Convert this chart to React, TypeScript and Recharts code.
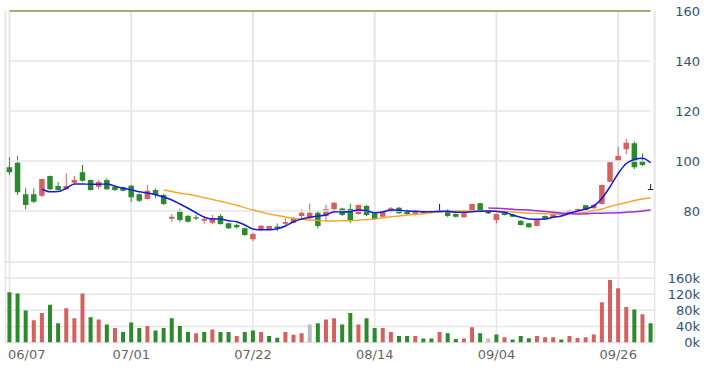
import React from 'react';
import { ComposedChart, Bar, Line, XAxis, YAxis, CartesianGrid, ReferenceLine, Cell } from 'recharts';

const dates = [
  '06/07','06/11','06/12','06/13','06/14','06/17','06/18','06/19','06/20','06/21',
  '06/24','06/25','06/26','06/27','06/28','07/01','07/02','07/03','07/04','07/05',
  '07/08','07/09','07/10','07/11','07/12','07/15','07/16','07/17','07/18','07/19',
  '07/22','07/23','07/26','07/29','07/30','07/31','08/01','08/02','08/05','08/06',
  '08/07','08/08','08/09','08/12','08/13','08/14','08/15','08/16','08/19','08/20',
  '08/21','08/22','08/23','08/26','08/27','08/28','08/29','08/30','09/02','09/03',
  '09/04','09/05','09/06','09/09','09/10','09/11','09/12','09/13','09/16','09/18',
  '09/19','09/20','09/23','09/24','09/25','09/26','09/27','09/30','10/01','10/04',
];
const tickDates = ['06/07', '07/01', '07/22', '08/14', '09/04', '09/26'];

const opens = [
  97.5, 99.3, 86.7, 86.7, 86.1, 94, 90, 88.7, 91.3, 95.5,
  92.4, 89.7, 92.4, 89.7, 89.5, 90.1, 86.7, 84.8, 88.4, 86.4,
  76.9, 80.1, 78, 77.5, 76.1, 75.3, 78, 75.1, 74.4, 73.1,
  68.7, 72.5, 72.5, 73.8, 74.9, 75.3, 78, 77.1, 79.3, 78,
  80.7, 81, 80.8, 78.8, 82, 79.1, 77.7, 79.7, 81.3, 80.4,
  78.4, 80, 80, 79.8, 80.4, 78.8, 77.5, 79.7, 83.1, 79.5,
  76.4, 79.3, 78.6, 76.1, 75.1, 74, 78, 77.5, 78.9, 78.8,
  80, 82.3, 81.1, 82.8, 91.7, 100.1, 104.7, 107.1, 100.1, 88.8,
];
const highs = [
  101.5, 102, 89.1, 89.1, 92.8, 94.2, 91.5, 95, 94, 98.4,
  92.6, 92.4, 93.1, 90.1, 89.8, 90.4, 87, 90.4, 89.1, 87,
  78.8, 81, 78.4, 78.4, 77.9, 78.4, 78.7, 75.3, 75, 73.4,
  71.2, 74.4, 74.2, 75, 77, 77.5, 80.7, 83, 80, 82.5,
  83.5, 81.3, 82.9, 82.6, 82.4, 79.5, 80.3, 81.6, 81.6, 80.6,
  80.3, 80.3, 80.2, 82.8, 80.8, 79, 79.3, 83, 83.3, 80.2,
  79, 79.6, 78.9, 76.3, 75.3, 76.6, 78.2, 78.9, 79.1, 80.6,
  81, 82.5, 82.7, 90.6, 99.7, 105.7, 108.8, 107.8, 103, 90.8,
];
const lows = [
  94.4, 86.4, 80.7, 83.1, 85.5, 88.4, 88.2, 88.5, 90.8, 91.7,
  88.1, 88.7, 88.5, 88, 87.8, 83.7, 83.6, 84.6, 85.1, 82.4,
  75.7, 75.5, 75.4, 76.4, 74.9, 74.7, 74.5, 72.8, 73, 70,
  68, 72, 72.2, 72, 74, 75, 77, 76.8, 73, 76,
  80.3, 78, 75.1, 78.5, 78, 76.5, 77.4, 79.4, 78.9, 78.6,
  78.2, 79, 79.3, 79.7, 77.5, 77.4, 77.3, 79.5, 79.5, 79,
  75, 78.2, 77.5, 74.2, 73.3, 73.8, 76.7, 77.3, 78.3, 78.6,
  79.8, 80.2, 80.9, 82.6, 91.5, 99.9, 102.8, 96.8, 98, 88.6,
];
const closes = [
  95.5, 87.5, 82.4, 83.7, 92.8, 88.7, 88.4, 90, 92.4, 92.1,
  88.4, 91.6, 88.7, 88.4, 88.1, 85.5, 84.1, 88.1, 86.4, 82.8,
  77.7, 76.4, 75.7, 77, 76.8, 77.1, 74.8, 73.1, 73.5, 70.4,
  70.8, 74.1, 74, 73.2, 75.6, 77.1, 79.3, 79.3, 74, 80.7,
  83.3, 78.4, 76.4, 82.4, 78.4, 76.8, 80.1, 81.1, 79.1, 78.8,
  80.1, 79.3, 79.5, 79.8, 78, 77.7, 79.1, 82.8, 79.7, 79.5,
  78.8, 78.4, 77.7, 74.4, 73.5, 76.4, 76.9, 78.7, 78.5, 80.4,
  80.8, 80.4, 82.5, 90.4, 99.5, 102, 107.3, 97.5, 98.4, 88.8,
];
const volumes = [
  125, 122, 79.5, 55, 73, 94, 48, 85, 60, 122,
  63, 57, 45, 36, 26, 50, 36, 41, 30, 36,
  60, 41, 26, 23, 26, 32, 26, 26, 16, 26,
  30, 26, 16, 12, 26, 19, 23, 45, 48, 57,
  60, 45, 73, 45, 60, 36, 36, 26, 16, 16,
  16, 10, 10, 26, 23, 9, 10, 38, 23, 10,
  20, 13, 7.5, 16, 10.5, 16, 13, 13, 7.5, 16,
  11, 13, 20, 100, 155, 135, 88, 82, 70, 48,
];
const volDir = [
  'd','d','d','u','u','d','d','u','u','u',
  'd','u','d','u','d','d','d','u','d','d',
  'd','d','d','u','d','u','d','d','u','d',
  'd','u','d','d','u','u','u','n','d','u',
  'u','d','d','u','d','d','u','u','d','d',
  'u','d','d','u','d','d','u','u','d','n',
  'd','u','d','d','d','u','u','u','d','u',
  'u','u','u','u','u','u','u','d','u','d',
];
const ma5 = [
  null, null, null, null, 88.7, 87.7, 87.8, 89.1, 90.8, 90.8,
  90.7, 90.7, 90.8, 89.9, 89.1, 88.5, 87.7, 87.2, 86.5, 85.6,
  84.4, 82.8, 81.1, 79.3, 77.5, 76.8, 76.8, 76.1, 75.7, 74.4,
  72.8, 72.5, 72.5, 72.9, 74, 75.7, 76.8, 77.5, 78, 78.4,
  79.7, 79.6, 79.8, 80.4, 80.1, 79.3, 79.6, 80.4, 80.3, 80,
  79.9, 79.7, 79.7, 79.9, 79.9, 79.5, 79.5, 79.7, 79.9, 80,
  79.8, 79.5, 78.4, 77.5, 76.8, 76.7, 76.8, 77.5, 78, 79.1,
  80, 80.8, 82, 85.1, 89.7, 95, 99, 100.6, 101.1, 99.3,
];
const ma20 = [
  null, null, null, null, null, null, null, null, null, null,
  null, null, null, null, null, null, null, null, null, 88.4,
  87.8, 87.1, 86.7, 86.1, 85.3, 84.6, 83.9, 83.1, 82.3, 81.3,
  80.4, 79.6, 78.8, 78.2, 77.6, 77.1, 76.7, 76.4, 76.2, 76,
  76, 76.1, 76.1, 76.3, 76.6, 76.8, 77.3, 77.7, 78, 78.4,
  78.7, 78.9, 79.3, 79.7, 79.8, 80, 80, 80, 80, 80,
  80, 79.8, 79.6, 79.3, 79.1, 79, 78.9, 78.8, 78.8, 79,
  79.2, 79.5, 80.2, 80.8, 81.8, 82.6, 83.4, 84.2, 84.8, 85.3,
];
const ma60 = [
  null, null, null, null, null, null, null, null, null, null,
  null, null, null, null, null, null, null, null, null, null,
  null, null, null, null, null, null, null, null, null, null,
  null, null, null, null, null, null, null, null, null, null,
  null, null, null, null, null, null, null, null, null, null,
  null, null, null, null, null, null, null, null, null, 81.2,
  81.1, 80.9, 80.7, 80.5, 80.4, 80.1, 79.8, 79.5, 79.2, 79,
  78.8, 78.9, 79.1, 79.1, 79.2, 79.3, 79.5, 79.7, 80, 80.4,
];
const priceTicks = [80, 100, 120, 140, 160];
const volTicks = [0, 40, 80, 120, 160, 200];

const RED = '#d6605e';
const GREEN = '#2b8a2b';
const BLACK = '#222222';
const GREY_VOL = '#bdbdbd';
const GRID = '#e6e6e6';
const FONT = 'DejaVu Sans';

const data = dates.map((d, i) => ({
  date: d,
  open: opens[i],
  high: highs[i],
  low: lows[i],
  close: closes[i],
  range: [lows[i], highs[i]],
  vol: volumes[i],
  dir: volDir[i],
  ma5: ma5[i],
  ma20: ma20[i],
  ma60: ma60[i],
}));

const Candle = (props: any) => {
  const { x, y, width, height, payload } = props;
  if (!payload) return null;
  const { open, close, high, low } = payload;
  const cx = x + width / 2;
  const span = high - low;
  const py = (v: number) => (span > 0 ? y + ((high - v) / span) * height : y);
  const top = py(Math.max(open, close));
  const bot = py(Math.min(open, close));
  const color = close > open ? RED : close < open ? GREEN : BLACK;
  return (
    <g>
      <line x1={cx} x2={cx} y1={y} y2={y + height} stroke={color} strokeWidth={1} />
      <rect x={cx - 2.75} y={top} width={5.5} height={Math.max(bot - top, 1)} fill={color} />
    </g>
  );
};

const PriceTick = (props: any) => {
  const { y, payload } = props;
  return (
    <text x={700} y={y} textAnchor="end" dominantBaseline="central" fill="#34507a" fontSize={13} fontFamily={FONT}>
      {payload.value}
    </text>
  );
};

const VolTick = (props: any) => {
  const { y, payload } = props;
  if (payload.value === 200) return <g />;
  return (
    <text x={700} y={y} textAnchor="end" dominantBaseline="central" fill="#34507a" fontSize={13} fontFamily={FONT}>
      {`${payload.value}k`}
    </text>
  );
};

const DateTick = (props: any) => {
  const { x, payload } = props;
  const first = payload.value === dates[0];
  return (
    <text x={first ? x - 1.5 : x} y={354} textAnchor={first ? 'start' : 'middle'} dominantBaseline="central" fill="#666666" fontSize={13} fontFamily={FONT}>
      {payload.value}
    </text>
  );
};

const W = 710;
const H = 373;
const LEFT = 5.44;
const AXIS_W = 55.3;

export default function App() {
  return (
    <div style={{ position: 'absolute', left: 0, top: 0, width: W, height: H, background: '#fff' }}>
      <div style={{ position: 'absolute', left: 0, top: 0 }}>
        <ComposedChart width={W} height={H} data={data} margin={{ top: 262, right: 0, bottom: 0, left: LEFT }} barCategoryGap={0}>
          <CartesianGrid horizontal vertical stroke={GRID} strokeWidth={1.5} />
          <XAxis dataKey="date" ticks={tickDates} interval={0} height={30.5} tickLine={false} axisLine={false} tick={<DateTick />} />
          <YAxis orientation="right" width={AXIS_W} domain={[0, 200]} ticks={volTicks} interval={0} allowDataOverflow tickLine={false} axisLine={false} tick={<VolTick />} />
          <Bar dataKey="vol" barSize={4} isAnimationActive={false}>
            {data.map((d, i) => (
              <Cell key={i} fill={d.dir === 'u' ? RED : d.dir === 'd' ? GREEN : GREY_VOL} />
            ))}
          </Bar>
        </ComposedChart>
      </div>
      <div style={{ position: 'absolute', left: 0, top: 0 }}>
        <ComposedChart width={W} height={H} data={data} margin={{ top: 11, right: 0, bottom: 111, left: LEFT }} barCategoryGap={0}>
          <CartesianGrid horizontal={false} vertical stroke={GRID} strokeWidth={2} />
          <XAxis dataKey="date" ticks={tickDates} interval={0} hide />
          <YAxis orientation="right" width={AXIS_W} domain={[59.6, 160]} ticks={priceTicks} interval={0} allowDataOverflow tickLine={false} axisLine={false} tick={<PriceTick />} />
          {[80, 100, 120, 140].map((v) => (
            <ReferenceLine key={v} segment={[{ x: dates[0], y: v }, { x: dates[dates.length - 1], y: v }]} stroke={GRID} strokeWidth={1.5} />
          ))}
          <ReferenceLine segment={[{ x: dates[0], y: 160 }, { x: dates[dates.length - 1], y: 160 }]} stroke="#a9ab7e" strokeWidth={2} />
          <Bar dataKey="range" shape={<Candle />} isAnimationActive={false} />
          <Line dataKey="ma20" type="monotone" stroke="#f5a524" strokeWidth={1.3} dot={false} isAnimationActive={false} />
          <Line dataKey="ma60" type="monotone" stroke="#9b30d6" strokeWidth={1.5} dot={false} isAnimationActive={false} />
          <Line dataKey="ma5" type="monotone" stroke="#1818e0" strokeWidth={1.5} dot={false} isAnimationActive={false} />
        </ComposedChart>
      </div>
    </div>
  );
}
